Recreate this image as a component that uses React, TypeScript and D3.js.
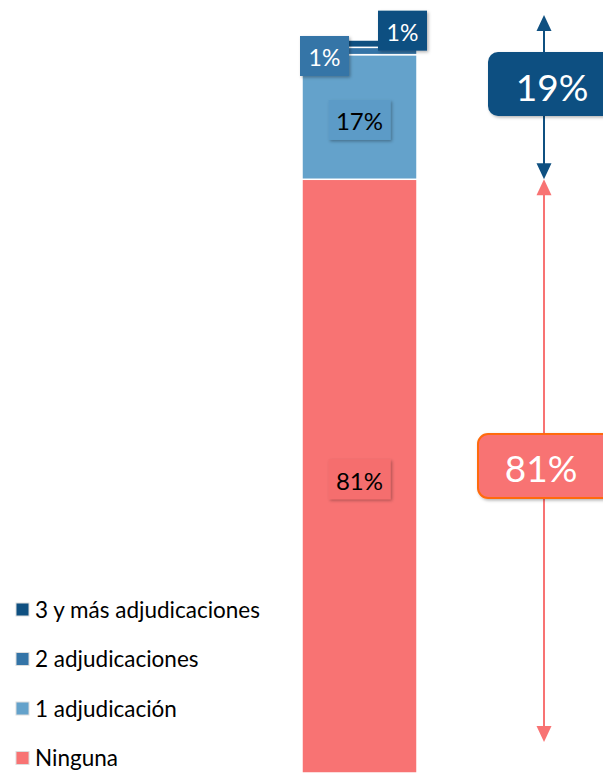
import React from "react";
import * as d3 from "d3";

// categories bottom -> top
const categories = ["Ninguna", "1 adjudicación", "2 adjudicaciones", "3 y más adjudicaciones"];
const values = [81, 17, 1, 1];
const fills = ["#F87373", "#64A2CB", "#3474A7", "#0F5081"];
const labelFills = ["#F56E6E", "#5C9BC7", "#3474A7", "#0F5081"];
const labelText = ["#000", "#000", "#fff", "#fff"];

// bracket groups on the right
const groupNames = ["adjudicadas", "ninguna"];
const groupValues = [19, 81];

const W = 603;
const H = 773;
const font = "Lato, 'Open Sans', sans-serif";

const App = () => {
  const y = d3.scaleLinear().domain([0, 100]).range([773, 40]);
  const x = d3.scaleBand().domain(["Total"]).range([302, 417]).padding(0);

  const row = { Total: "Total" } as any;
  categories.forEach((c, i) => (row[c] = values[i]));
  const stack = d3.stack().keys(categories)([row]);

  const bx = x("Total") as number;
  const bw = x.bandwidth();
  const cx = bx + bw / 2;

  // label placements (the two 1% labels are moved off the thin segments)
  const labelPos = (i: number, s: any) => {
    const mid = (y(s[0][0]) + y(s[0][1])) / 2;
    if (i === 2) return [cx - 35, mid + 5];
    if (i === 3) return [cx + 43, mid - 13];
    return [cx, mid + 3];
  };

  const ax = 544;
  const arrowHead = (tx: number, ty: number, dir: number, color: string) => (
    <path
      d={`M${tx},${ty} L${tx - 7.5},${ty - dir * 16} L${tx + 7.5},${ty - dir * 16} Z`}
      fill={color}
    />
  );

  const blue = "#0F5081";
  const pink = "#F87373";
  const topY = y(100) - 25;
  const splitY = y(groupValues[1]);

  return (
    <svg width={W} height={H} style={{ position: "absolute", left: 0, top: 0 }}>
      <defs>
        <filter id="sh" x="-30%" y="-30%" width="160%" height="160%">
          <feDropShadow dx="1.5" dy="1.5" stdDeviation="1.5" floodColor="#000" floodOpacity="0.3" />
        </filter>
      </defs>

      {/* stacked bar */}
      {stack.map((s, i) => (
        <rect
          key={categories[i]}
          x={bx}
          y={y(s[0][1])}
          width={bw}
          height={y(s[0][0]) - y(s[0][1])}
          fill={fills[i]}
          stroke="#fff"
          strokeWidth={1.5}
        />
      ))}

      {/* data labels */}
      {stack.map((s, i) => {
        const [lx, ly] = labelPos(i, s);
        const bwid = i < 2 ? 62 : 49;
        const bh = 40;
        return (
          <g key={"l" + i}>
            <rect
              x={lx - bwid / 2}
              y={ly - bh / 2}
              width={bwid}
              height={bh}
              fill={labelFills[i]}
              filter="url(#sh)"
            />
            <text
              x={lx}
              y={ly + 1}
              textAnchor="middle"
              dominantBaseline="central"
              fontFamily={font}
              fontSize={i < 2 ? 24 : 23}
              fill={labelText[i]}
            >
              {values[i]}%
            </text>
          </g>
        );
      })}

      {/* blue bracket arrow */}
      <line x1={ax} x2={ax} y1={topY + 14} y2={splitY - 14} stroke={blue} strokeWidth={2} />
      {arrowHead(ax, topY, -1, blue)}
      {arrowHead(ax, splitY, 1, blue)}

      {/* pink bracket arrow */}
      <line x1={ax} x2={ax} y1={splitY + 14} y2={y(0) - 45} stroke={pink} strokeWidth={2} />
      {arrowHead(ax, splitY, -1, pink)}
      {arrowHead(ax, y(0) - 31, 1, pink)}

      {/* group boxes */}
      <rect x={488} y={52} width={140} height={64} rx={10} fill={blue} filter="url(#sh)" />
      <text x={552} y={86} textAnchor="middle" dominantBaseline="central" fontFamily={font} fontSize={37} fill="#fff">
        {groupValues[0]}%
      </text>
      <rect x={478} y={434} width={150} height={64} rx={10} fill={pink} stroke="#FF6A0D" strokeWidth={2} filter="url(#sh)" />
      <text x={541} y={467} textAnchor="middle" dominantBaseline="central" fontFamily={font} fontSize={37} fill="#fff">
        {groupValues[1]}%
      </text>

      {/* legend, top -> bottom */}
      {categories
        .slice()
        .reverse()
        .map((c, j) => {
          const i = categories.length - 1 - j;
          const ly = 609 + j * 49.5;
          return (
            <g key={"lg" + c}>
              <rect x={16} y={ly - 6} width={13} height={13} fill={fills[i]} stroke="#ddd" strokeWidth={1} />
              <text x={35} y={ly} dominantBaseline="central" fontFamily={font} fontSize={22.5} fill="#000">
                {c}
              </text>
            </g>
          );
        })}
    </svg>
  );
};

export default App;
